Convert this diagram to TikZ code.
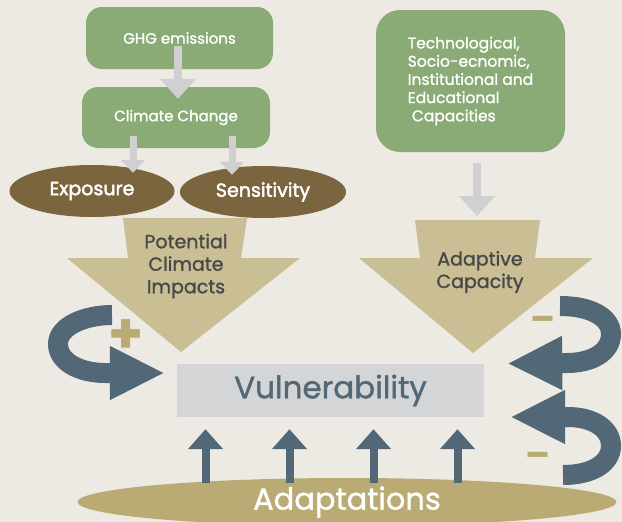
\documentclass[tikz,border=0pt]{standalone}
\usepackage{fontspec}
\setmainfont{Poppins}
\newfontfamily\medfont{Poppins}[FakeBold=1.2]
\newfontfamily\semifont{Poppins}[FakeBold=2.2]
\usetikzlibrary{arrows.meta,calc,shapes.geometric}

\definecolor{bgcream}{RGB}{237,234,228}
\definecolor{boxgreen}{RGB}{138,170,118}
\definecolor{ovalbrown}{RGB}{122,101,62}
\definecolor{arrowtan}{RGB}{201,190,148}
\definecolor{adapttan}{RGB}{186,170,115}
\definecolor{vulngrey}{RGB}{212,213,215}
\definecolor{slateblue}{RGB}{82,104,119}
\definecolor{pointergrey}{RGB}{208,208,210}
\definecolor{labelgrey}{RGB}{72,72,72}

\tikzset{
    greenbox/.style={fill=boxgreen, text=white, rounded corners=16pt, inner sep=0pt,
        font=\medfont\fontsize{15}{18}\selectfont},
    brownoval/.style={ellipse, fill=ovalbrown, text=white, inner sep=0pt,
        minimum width=165pt, minimum height=52pt, font=\semifont\fontsize{19}{19}\selectfont},
    tanlabel/.style={text=labelgrey, align=center, font=\medfont\fontsize{19}{22.5}\selectfont},
    greyarrow/.style={draw=pointergrey, line width=8pt, -{Triangle[width=35pt,length=20pt]}},
    smallgreyarrow/.style={draw=pointergrey, line width=7pt, -{Triangle[width=24pt,length=13pt]}},
    uparrow/.style={draw=slateblue, line width=8pt, -{Triangle[width=34pt,length=20pt]}},
    loopband/.style={draw=slateblue, line width=20pt, -{Triangle[width=50pt,length=55pt]}},
    signlabel/.style={text=adapttan, font=\fontsize{36}{36}\selectfont\bfseries}
}

\begin{document}
\begin{tikzpicture}[x=1pt, y=-1pt]
\useasboundingbox (0,0) rectangle (622,522);
\fill[bgcream] (0,0) rectangle (622,522);

% left column
\node[greenbox, minimum width=187pt, minimum height=62pt] (ghg) at (179.5,38) {GHG emissions};
\node[greenbox, minimum width=188pt, minimum height=61pt] (climate) at (176,117.5) {Climate Change};
\node[brownoval] (exposure) at (92,191) {Exposure};
\node[brownoval, minimum width=166pt] (sensitivity) at (263,192) {Sensitivity};

% right column
\node[greenbox, rounded corners=24pt, minimum width=189pt, minimum height=142pt, align=left,
    font=\medfont\fontsize{15.5}{18.2}\selectfont]
    (capacities) at (470.5,81) {Technological,\\Socio-ecnomic,\\Institutional and\\Educational\\ \ Capacities};

% big tan arrows
\fill[arrowtan] (123,218) -- (247,218) -- (241,258) -- (300,258) -- (181,352) -- (67,258) -- (128,258) -- cycle;
\fill[arrowtan] (415,220) -- (540,220) -- (535,258) -- (593,258) -- (473,353) -- (359,258) -- (420,258) -- cycle;
\coordinate (adaptivetop) at (477,220);
\node[tanlabel] (impacts) at (186,266) {Potential\\Climate\\Impacts};
\node[tanlabel] (adaptive) at (480,272) {Adaptive\\Capacity};

% centre and base
\node[fill=vulngrey, text=slateblue, minimum width=307pt, minimum height=53pt, inner sep=0pt,
    font=\medfont\fontsize{31}{31}\selectfont] (vuln) at (330.5,390.5) {Vulnerability};
\node[ellipse, fill=adapttan, text=white, minimum width=539pt, minimum height=48pt, inner sep=0pt,
    font=\medfont\fontsize{30.5}{30}\selectfont] (adapt) at (347,502) {Adaptations};

% grey pointers
\draw[greyarrow] ($(ghg.south)+(-1.5,-23)$) -- ($(climate.north)+(2,12)$);
\draw[smallgreyarrow] ($(climate.south)+(-43,-12)$) -- ($(exposure.north)+(41,8)$);
\draw[smallgreyarrow] ($(climate.south)+(56,-12)$) -- ($(sensitivity.north)+(-31,9)$);
\draw[greyarrow] ($(capacities.south)+(6.5,11)$) -- ($(adaptivetop)+(0,-4)$);

% adaptations push up
\foreach \dx in {-126,-42,42,126}
    \draw[uparrow] ($(vuln.south)+(\dx+1,66)$) -- ($(vuln.south)+(\dx+1,12)$);

% feedback loops
\draw[loopband] (112,315) .. controls (85,315) and (58,326) .. (58,344)
    .. controls (58,362) and (80,373) .. (105,373) -- ($(vuln.west)+(-12,-17.5)$);
\draw[loopband] (560,306) .. controls (592,306) and (611,318) .. (611,334)
    .. controls (611,352) and (592,363) .. (567,363) -- ($(vuln.east)+(23,-27)$);
\draw[loopband] (563,475) .. controls (594,475) and (611,462) .. (611,446)
    .. controls (611,428) and (592,417) .. (568,417) -- ($(vuln.east)+(26,26.5)$);

\node[signlabel, font=\fontsize{56}{56}\selectfont\bfseries] (plus) at (126,337) {+};
\node[signlabel] (minustop) at (543,324) {–};
\node[signlabel] (minusbottom) at (538,460) {–};
\end{tikzpicture}
\end{document}
